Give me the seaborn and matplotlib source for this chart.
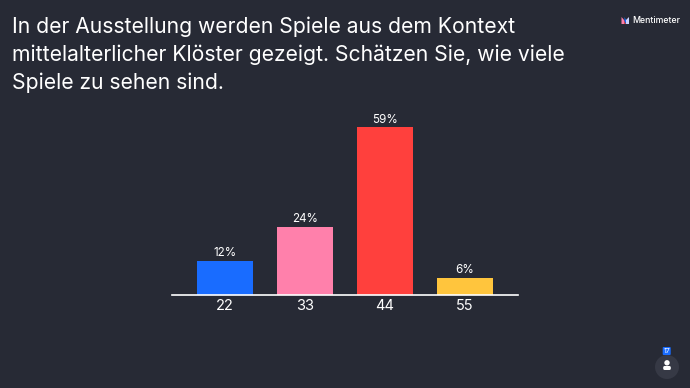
import matplotlib
matplotlib.use('Agg')
import matplotlib.pyplot as plt
from matplotlib.patches import Circle, Polygon, FancyBboxPatch
import pandas as pd
import seaborn as sns

# Values
categories = ['22', '33', '44', '55']
percent = [12, 24, 59, 6]
bar_colors = ['#196cff', '#ff80ab', '#ff403d', '#ffc53d']
title_lines = 'In der Ausstellung werden Spiele aus dem Kontext\nmittelalterlicher Klöster gezeigt. Schätzen Sie, wie viele\nSpiele zu sehen sind.'
participants = '17'

BG = '#272a35'
W, H = 690, 388

sns.set_theme(style='dark')
plt.rcParams['font.family'] = ['Inter', 'DejaVu Sans']

df = pd.DataFrame({'answer': categories, 'percent': percent})

fig = plt.figure(figsize=(W / 100, H / 100), dpi=100, facecolor=BG)
# axes box in pixels: x 172-518, baseline at y 294.5
ax = fig.add_axes([172 / W, (H - 294.5) / H, 346 / W, 194.5 / H], facecolor=BG)
sns.barplot(data=df, x='answer', y='percent', hue='answer', palette=bar_colors,
            legend=False, width=0.7, saturation=1, linewidth=0, ax=ax)
ax.set_xlim(-0.662, 3.663)
ax.set_ylim(0, 68.7)
ax.set_xlabel('')
ax.set_ylabel('')
ax.set_yticks([])
ax.tick_params(axis='x', length=0, pad=3.5, labelsize=10.5, labelcolor='#ffffff')
ax.grid(False)
for side in ['top', 'left', 'right']:
    ax.spines[side].set_visible(False)
ax.spines['bottom'].set_color('#ffffff')
ax.spines['bottom'].set_linewidth(1.2)

for container in ax.containers:
    ax.bar_label(container, fmt='%g%%', padding=0.8, color='#ffffff', fontsize=8.4)

fig.text(12 / W, 1 - 16.5 / H, title_lines, color='#ffffff', fontsize=15.2, va='top',
         ha='left', linespacing=1.445)

# overlay in pixel coordinates for logo and participant badge
ov = fig.add_axes([0, 0, 1, 1], facecolor='none')
ov.set_xlim(0, W)
ov.set_ylim(H, 0)
ov.axis('off')

ov.add_patch(Polygon([(621.5, 17), (624.5, 20.5), (624.5, 24), (621.5, 24)], color='#ff80ab', lw=0))
ov.add_patch(Polygon([(624.5, 20.5), (626, 24), (624.5, 24)], color='#ff403d', lw=0))
ov.add_patch(Polygon([(626, 24), (626, 20), (629, 17), (629, 24)], color='#c9d4ff', lw=0))
ov.add_patch(Polygon([(624.5, 17), (626, 20), (626, 24), (624.5, 20.5)], color='#196cff', lw=0))
ov.text(632, 20.5, 'Mentimeter', color='#ffffff', fontsize=6.3, fontweight='medium',
        va='center', ha='left')

ov.add_patch(Circle((667, 367), 12, color='#363945', lw=0))
ov.add_patch(Circle((667, 362.8), 2.7, color='#ffffff', lw=0))
ov.add_patch(FancyBboxPatch((663.2, 366), 7.6, 4, boxstyle='round,pad=0,rounding_size=1.5',
                            color='#ffffff', lw=0))
ov.add_patch(FancyBboxPatch((662.7, 347), 8, 8, boxstyle='round,pad=0,rounding_size=1',
                            color='#196cff', lw=0))
ov.text(666.7, 351.2, participants, color='#ffffff', fontsize=5, va='center', ha='center')

fig.savefig('out.png', dpi=100, facecolor=BG)
